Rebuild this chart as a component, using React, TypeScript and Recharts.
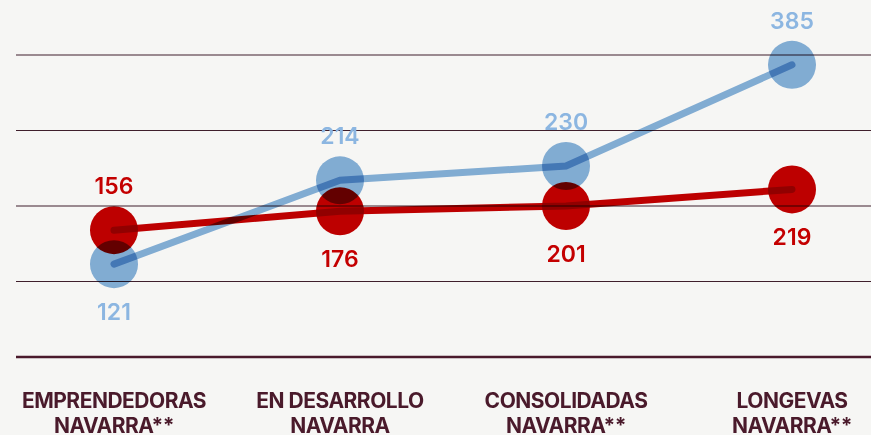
import { CartesianGrid, Line, LineChart, XAxis, YAxis } from 'recharts'

// categories (second line after \n)
const categories = [
  'EMPRENDEDORAS\nNAVARRA**',
  'EN DESARROLLO\nNAVARRA',
  'CONSOLIDADAS\nNAVARRA**',
  'LONGEVAS\nNAVARRA**',
]

// published figures shown as labels
const blueLabels = [121, 214, 230, 385]
const redLabels = [156, 176, 201, 219]

const bluePlot = [123, 234, 253, 387]
const redPlot = [168, 193, 200, 222]

const yTicks = [0, 100, 200, 300, 400]

const BLUE = '#86b2dc'
const BLUE_TEXT = '#8cb6e1'
const RED = '#c40000'
const MAROON = '#4a1a2b'
const BG = '#f6f6f4'

const data = categories.map((name, i) => ({
  name,
  blue: bluePlot[i],
  red: redPlot[i],
  blueLabel: blueLabels[i],
  redLabel: redLabels[i],
}))

const makeDot = (key: 'blue' | 'red', other: 'blue' | 'red', color: string, textColor: string) =>
  (props: any) => {
    const { cx, cy, index, payload } = props
    const above = payload[key] >= payload[other]
    const label = payload[key + 'Label']
    return (
      <g key={`${key}-dot-${index}`}>
        <circle cx={cx} cy={cy} r={24} fill={color} className="blend" />
        <text
          x={cx}
          y={above ? cy - 36 : cy + 56}
          textAnchor="middle"
          fill={textColor}
          fontSize={23}
          fontWeight={600}
          fontFamily="Inter, 'Noto Sans', sans-serif"
        >
          {label}
        </text>
      </g>
    )
  }

const CategoryTick = ({ x, y, payload }: any) => {
  const lines = String(payload.value).split('\n')
  return (
    <g>
      {lines.map((line, i) => (
        <text
          key={line}
          x={x}
          y={y + 51 + i * 25}
          textAnchor="middle"
          fill={MAROON}
          fontSize={21}
          fontWeight={700}
          letterSpacing={-0.5}
          fontFamily="Inter, 'Noto Sans', sans-serif"
        >
          {line}
        </text>
      ))}
    </g>
  )
}

export default function App() {
  return (
    <div style={{ position: 'absolute', left: 0, top: 0, width: 871, height: 435, background: BG }}>
      <style>{'.blend, .recharts-line-curve { mix-blend-mode: multiply; }'}</style>
      <LineChart width={871} height={435} data={data} margin={{ top: 55, right: 0, bottom: 0, left: 16 }}>
        <CartesianGrid vertical={false} stroke="#3f1f2c" strokeWidth={1} />
        <XAxis
          dataKey="name"
          interval={0}
          height={78}
          padding={{ left: 98, right: 79 }}
          axisLine={{ stroke: MAROON, strokeWidth: 2.5 }}
          tickLine={false}
          tickSize={0}
          tickMargin={0}
          tick={<CategoryTick />}
        />
        <YAxis hide domain={[0, 400]} ticks={yTicks} />
        <Line
          dataKey="blue"
          stroke={BLUE}
          strokeWidth={7}
          strokeLinecap="round"
          dot={makeDot('blue', 'red', BLUE, BLUE_TEXT)}
          activeDot={false}
          isAnimationActive={false}
        />
        <Line
          dataKey="red"
          stroke={RED}
          strokeWidth={7}
          strokeLinecap="round"
          dot={makeDot('red', 'blue', RED, RED)}
          activeDot={false}
          isAnimationActive={false}
        />
      </LineChart>
    </div>
  )
}
